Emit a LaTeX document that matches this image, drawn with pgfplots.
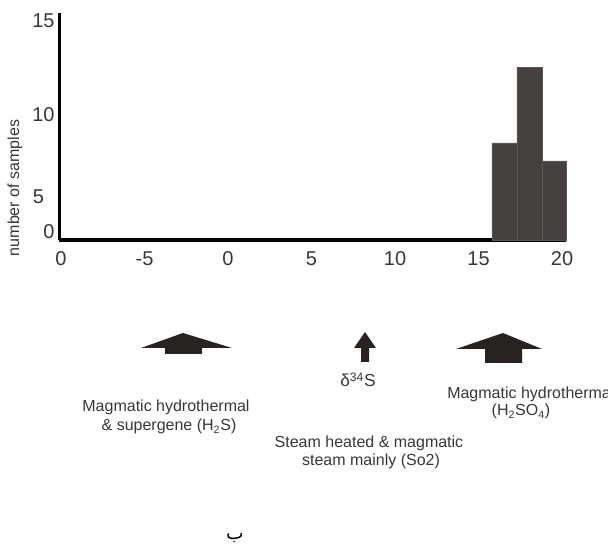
\documentclass[border=0pt]{standalone}
\usepackage{pgfplots}
\pgfplotsset{compat=1.18}
\usepackage{fontspec}
\setmainfont{Liberation Sans}
\newfontfamily\arabicfont[Script=Arabic]{DejaVu Sans}
\TeXXeTstate=1
\definecolor{barcol}{RGB}{70,64,62}
\definecolor{barline}{RGB}{92,86,84}
\definecolor{arrowcol}{RGB}{40,35,33}
\definecolor{txt}{RGB}{55,55,55}
\begin{document}
\begin{tikzpicture}[x=0.75pt,y=0.75pt]
\path[use as bounding box] (0,0) rectangle (608,-548);
\begin{axis}[
  at={(44.475pt,-180pt)}, anchor=south west, scale only axis,
  width=380.2pt, height=170.25pt,
  xmin=-10.1, xmax=20.25, ymin=0, ymax=15,
  axis lines=left, axis line style={-, line width=2.4pt, black},
  xtick={-10,-5,0,5,10,15,20}, xticklabels={0,-5,0,5,10,15,20},
  ytick={0.53,2.84,8.26,14.47}, yticklabels={0,{5\kern8pt},10,15},
  major tick length=0pt,
  tick label style={font=\fontsize{15}{17}\selectfont, text=txt},
  xticklabel style={yshift=-5pt},
  clip=false,
]
\addplot[ybar interval, fill=barcol, draw=barline, line width=0.5pt] coordinates {(15.8,6.41) (17.3,11.43) (18.8,5.22) (20.25,5.22)};
\end{axis}
\fill[arrowcol] (183,-333) -- (232,-348) -- (202,-348) -- (202,-354) -- (165,-354) -- (165,-348) -- (141,-348) -- cycle;
\fill[arrowcol] (365,-332) -- (376,-348) -- (369,-348) -- (369,-362) -- (361,-362) -- (361,-348) -- (354,-348) -- cycle;
\fill[arrowcol] (503,-333) -- (542,-349) -- (522,-349) -- (522,-363) -- (485,-363) -- (485,-349) -- (456,-349) -- cycle;
\begin{scope}[every node/.style={font=\fontsize{12}{14}\selectfont, text=txt, inner sep=0pt}]
\node[anchor=base] at (166,-412) {Magmatic hydrothermal};
\node[anchor=base] at (169,-431) {\& supergene (H\textsubscript{2}S)};
\node[anchor=base, font=\fontsize{13}{15}\selectfont] at (358,-387) {δ\textsuperscript{34}S};
\node[anchor=base] at (369,-448) {Steam heated \& magmatic};
\node[anchor=base] at (371,-466) {steam mainly (So2)};
\node[anchor=base west] at (447,-399) {Magmatic hydrothermal};
\node[anchor=base] at (521,-416) {(H\textsubscript{2}SO\textsubscript{4})};
\node[rotate=90] at (15,-188) {number of samples};
\node[text=black, font=\fontsize{14}{16}\selectfont] at (235,-538) {\arabicfont\beginR ب\endR};
\end{scope}
\end{tikzpicture}
\end{document}
